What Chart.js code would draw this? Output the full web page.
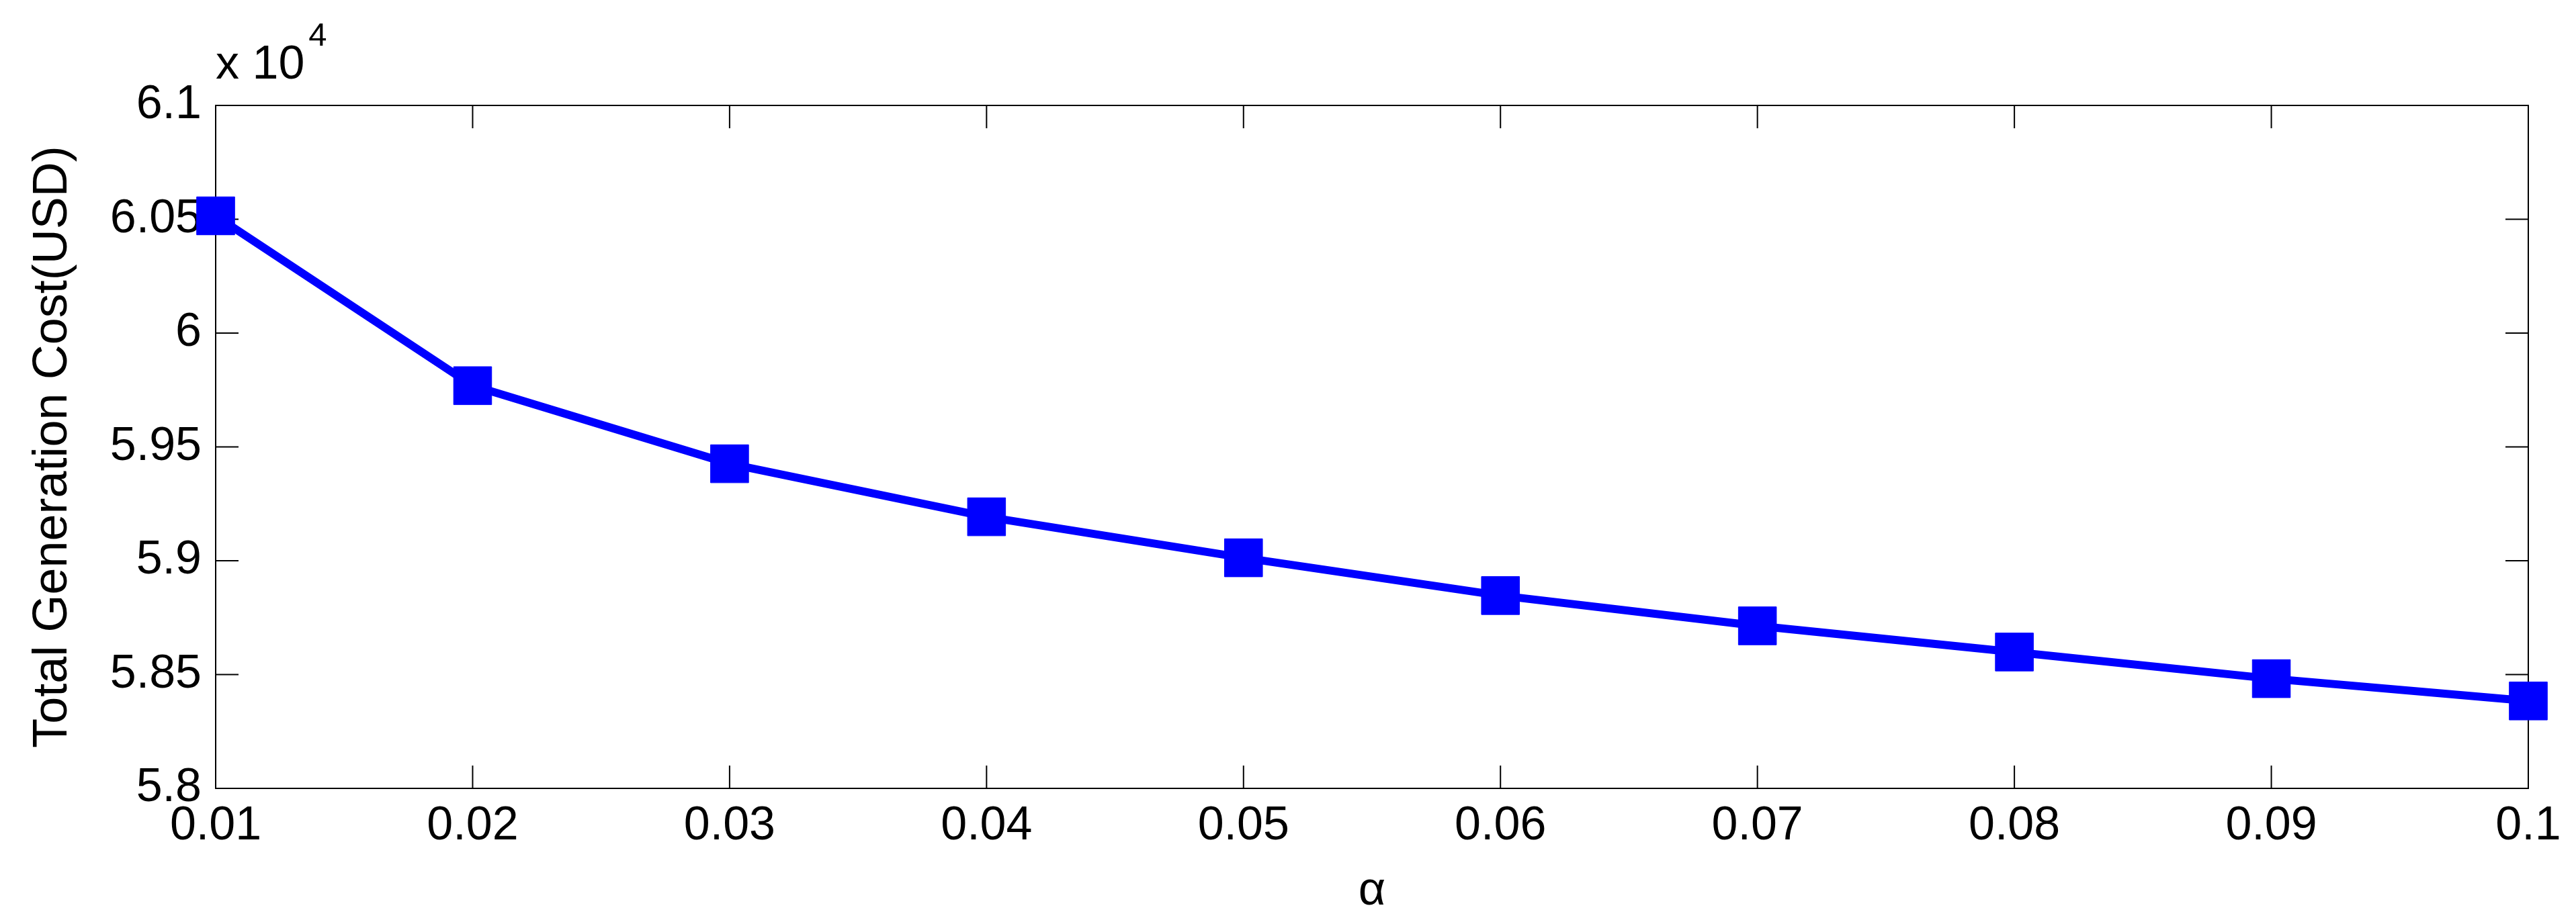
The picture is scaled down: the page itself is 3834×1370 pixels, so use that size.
<!DOCTYPE html>
<html>
<head>
<meta charset="utf-8">
<script src="https://cdn.jsdelivr.net/npm/chart.js@4/dist/chart.umd.min.js"></script>
<style>
  html, body { margin: 0; padding: 0; background: #ffffff; }
  #wrap { width: 3834px; height: 1370px; }
</style>
</head>
<body>
<div id="wrap"><canvas id="c" width="3834" height="1370"></canvas></div>
<script>
// ---- data ----
const alphaLabels = ['0.01', '0.02', '0.03', '0.04', '0.05', '0.06', '0.07', '0.08', '0.09', '0.1'];
const totalCost = [60515, 59769, 59426, 59193, 59013, 58847, 58714, 58599, 58482, 58384];
const yMin = 58000;
const yMax = 61000;
const yStep = 500;
const yExponent = 4;
const xTitle = 'α';
const yTitle = 'Total Generation Cost(USD)';

const FONT = '"Liberation Sans", Arial, Helvetica, sans-serif';

const boxTicks = {
  id: 'boxTicks',
  beforeDatasetsDraw(chart) {
    const { ctx, chartArea: a, scales: { x, y } } = chart;
    ctx.save();
    ctx.strokeStyle = '#000000';
    ctx.lineWidth = 2;
    ctx.strokeRect(a.left, a.top, a.right - a.left, a.bottom - a.top);
    const L = 34;
    ctx.beginPath();
    x.ticks.forEach((t, i) => {
      const px = x.getPixelForTick(i);
      ctx.moveTo(px, a.bottom); ctx.lineTo(px, a.bottom - L);
      ctx.moveTo(px, a.top); ctx.lineTo(px, a.top + L);
    });
    y.ticks.forEach((t, i) => {
      const py = y.getPixelForTick(i);
      ctx.moveTo(a.left, py); ctx.lineTo(a.left + L, py);
      ctx.moveTo(a.right, py); ctx.lineTo(a.right - L, py);
    });
    ctx.stroke();
    ctx.restore();
  },
  afterDraw(chart) {
    const { ctx, chartArea: a } = chart;
    ctx.save();
    ctx.fillStyle = '#000000';
    ctx.textBaseline = 'alphabetic';
    ctx.textAlign = 'left';
    ctx.font = '70px ' + FONT;
    ctx.fillText('x 10', a.left, a.top - 40);
    const w = ctx.measureText('x 10').width;
    ctx.font = '49px ' + FONT;
    ctx.fillText(String(yExponent), a.left + w + 6, a.top - 89);
    ctx.restore();
  }
};

new Chart(document.getElementById('c'), {
  type: 'line',
  data: {
    labels: alphaLabels,
    datasets: [{
      data: totalCost,
      borderColor: '#0000ff',
      backgroundColor: '#0000ff',
      borderWidth: 12,
      pointStyle: 'rect',
      pointRadius: 40,
      pointHoverRadius: 40,
      pointBackgroundColor: '#0000ff',
      pointBorderColor: '#0000ff',
      pointBorderWidth: 1,
      tension: 0,
      fill: false,
      clip: false
    }]
  },
  options: {
    responsive: false,
    animation: false,
    devicePixelRatio: 1,
    events: [],
    layout: { padding: { left: 0, right: 71, top: 157, bottom: 0 } },
    plugins: { legend: { display: false }, tooltip: { enabled: false } },
    scales: {
      x: {
        type: 'category',
        offset: false,
        grid: { display: false, drawTicks: false },
        border: { display: false },
        ticks: {
          color: '#000000',
          font: { size: 70, family: FONT },
          padding: 15,
          maxRotation: 0,
          autoSkip: false
        },
        title: {
          display: true,
          text: xTitle,
          color: '#000000',
          font: { size: 70, family: FONT },
          padding: { top: 0, bottom: 0 }
        },
        afterFit(scale) { scale.height = 196; }
      },
      y: {
        type: 'linear',
        min: yMin,
        max: yMax,
        grid: { display: false, drawTicks: false },
        border: { display: false },
        ticks: {
          stepSize: yStep,
          color: '#000000',
          font: { size: 70, family: FONT },
          padding: 21,
          callback: (v) => String(+(v / Math.pow(10, yExponent)).toFixed(2))
        },
        title: {
          display: true,
          text: yTitle,
          color: '#000000',
          font: { size: 72, family: FONT },
          padding: { top: 36, bottom: 0 }
        },
        afterFit(scale) { scale.width = 321; }
      }
    }
  },
  plugins: [boxTicks]
});
</script>
</body>
</html>
